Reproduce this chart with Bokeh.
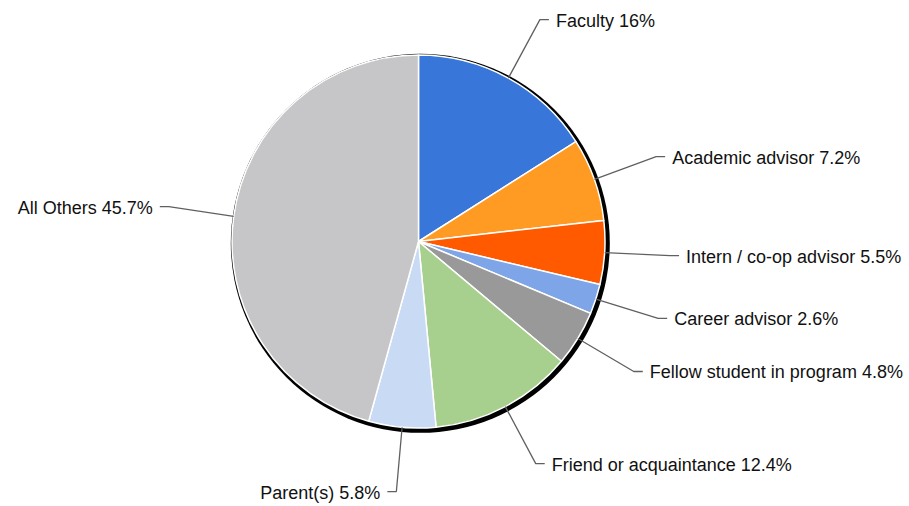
import math
from bokeh.plotting import figure
from bokeh.models import Range1d, ColumnDataSource
from bokeh.core.properties import value
from bokeh.embed import file_html
from bokeh.resources import INLINE

labels = ["Faculty", "Academic advisor", "Intern / co-op advisor", "Career advisor",
          "Fellow student in program", "Friend or acquaintance", "Parent(s)", "All Others"]
shares = [16, 7.2, 5.5, 2.6, 4.8, 12.4, 5.8, 45.7]
share_text = ["16%", "7.2%", "5.5%", "2.6%", "4.8%", "12.4%", "5.8%", "45.7%"]
colors = ["#3877D9", "#FF9A22", "#FF5A00", "#7DA5E8", "#999999", "#A7CF8D", "#C9DAF5", "#C6C6C8"]

R = 186.5
R_ELBOW = 252
CX, CY = 418, 241
W, H = 909, 506

total = sum(shares)
starts, ends, mids = [], [], []
cum = 0.0
for s in shares:
    a0 = math.pi / 2 - 2 * math.pi * cum / total
    cum += s
    a1 = math.pi / 2 - 2 * math.pi * cum / total
    starts.append(a1)
    ends.append(a0)
    mids.append((a0 + a1) / 2)

p = figure(width=W, height=H, output_backend="svg", toolbar_location=None,
           x_range=Range1d(-CX, W - CX), y_range=Range1d(CY - H, CY),
           min_border=0, outline_line_color=None)
p.axis.visible = False
p.grid.visible = False
p.background_fill_color = "white"
p.border_fill_color = "white"

# shadow
p.circle(x=[1.8], y=[-1.8], radius=189.5, fill_color="black", line_color=None)

src = ColumnDataSource(dict(start=starts, end=ends, color=colors))
p.wedge(x=0, y=0, radius=R, start_angle="start", end_angle="end", direction="anticlock",
        fill_color="color", line_color="white", line_width=1.5, source=src)

xs_lines, ys_lines = [], []
tx, ty, tt, talign = [], [], [], []
for lab, st, m in zip(labels, share_text, mids):
    x0, y0 = R * math.cos(m), R * math.sin(m)
    x1, y1 = R_ELBOW * math.cos(m), R_ELBOW * math.sin(m) + 1
    right = math.cos(m) >= 0
    d = 1 if right else -1
    x2 = x1 + 9 * d
    xs_lines.append([x0, x1, x2])
    ys_lines.append([y0, y1, y1])
    tx.append(x1 + 16 * d)
    ty.append(y1 - 1)
    tt.append(f"{lab} {st}")
    talign.append("left" if right else "right")

p.multi_line(xs=xs_lines, ys=ys_lines, line_color="#606060", line_width=1.3)
p.text(x=tx, y=ty, text=tt, text_align=talign, text_baseline="middle",
       text_font=value("Liberation Sans"), text_font_size="18px", text_color="#111111")

open("out.html", "w").write(file_html(p, INLINE))
